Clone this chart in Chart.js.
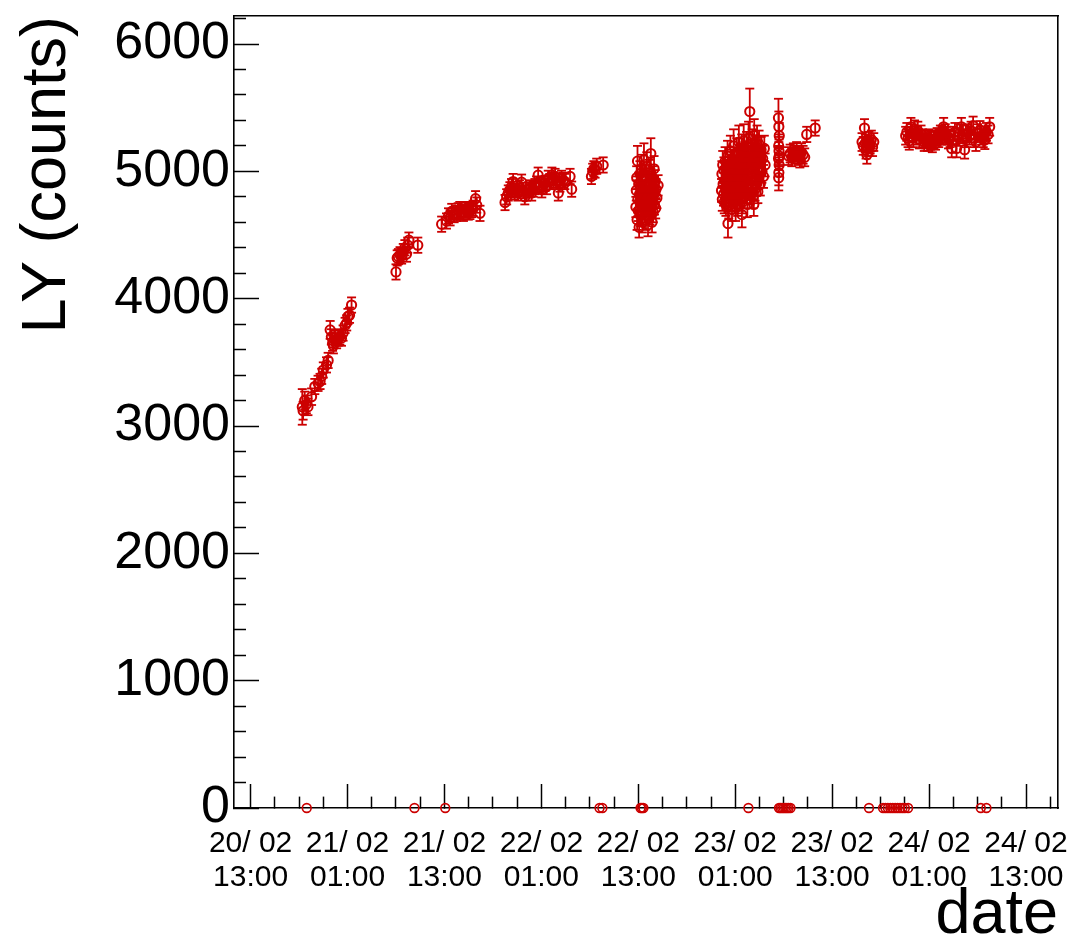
<!DOCTYPE html>
<html>
<head>
<meta charset="utf-8">
<script src="https://cdn.jsdelivr.net/npm/chart.js@4.4.1/dist/chart.umd.min.js"></script>
<style>
html,body{margin:0;padding:0;background:#fff;}
canvas{display:block;}
</style>
</head>
<body>
<canvas id="c" width="1073" height="941" style="width:1073px;height:941px"></canvas>
<script>
// ---- data: [hours since 20/02 00:00, LY (counts), error] ----
const run1 = [[19.40,3150,140],[19.50,3120,70],[19.70,3200,70],[19.90,3170,70],[20.10,3150,65],[20.55,3230,65],[20.95,3310,60],[21.35,3335,60],[21.60,3350,60],[21.80,3390,60],[22.00,3440,60],[22.40,3480,60],[22.60,3515,60],[22.85,3755,70],[23.00,3700,60],[23.15,3650,60],[23.25,3630,60],[23.45,3690,60],[23.65,3670,60],[23.85,3690,60],[24.05,3700,60],[24.25,3690,60],[24.45,3730,60],[24.70,3790,60],[24.90,3810,60],[25.05,3860,60],[25.25,3870,60],[25.50,3950,60]];
const run2 = [[31.00,4210,60],[31.15,4320,60],[31.30,4330,60],[31.50,4345,60],[31.70,4335,60],[31.90,4370,60],[32.10,4400,60],[32.30,4350,60],[32.45,4420,60],[32.60,4460,60],[33.70,4420,60]];
const run3 = [[36.65,4585,60],[37.25,4610,60],[37.50,4650,60],[37.70,4635,60],[37.90,4685,60],[38.20,4660,60],[38.50,4670,60],[38.70,4690,60],[38.90,4700,60],[39.10,4680,60],[39.35,4670,60],[39.55,4700,60],[39.75,4695,60],[39.95,4680,60],[40.15,4685,60],[40.35,4700,60],[40.55,4710,60],[40.85,4785,60],[41.00,4735,60],[41.40,4670,60]];
const run4 = [[44.50,4755,60],[44.70,4800,60],[44.90,4830,60],[45.10,4855,60],[45.30,4880,60],[45.50,4920,60],[45.70,4840,60],[45.90,4860,60],[46.10,4830,60],[46.30,4870,60],[46.55,4915,60],[46.75,4850,60],[46.95,4800,60],[47.15,4830,60],[47.40,4855,60],[47.60,4870,60],[47.80,4830,60],[48.00,4860,60],[48.20,4880,60],[48.40,4900,60],[48.60,4970,60],[48.80,4890,60],[49.05,4855,60],[49.25,4900,60],[49.45,4905,60],[49.65,4880,60],[49.85,4945,60],[50.05,4920,60],[50.30,4970,60],[50.50,4930,60],[50.70,4960,60],[50.90,4920,60],[51.10,4830,60],[51.30,4900,60],[51.50,4945,60],[51.70,4930,60],[51.90,4920,60],[52.55,4960,60],[52.75,4860,60]];
const run5 = [[55.20,4960,60],[55.35,5000,60],[55.50,5020,60],[55.65,5010,60],[55.85,5040,60],[56.65,5050,60]];
const run6 = [[60.70,4720,80],[60.75,4850,80],[60.80,4950,90],[60.85,4620,80],[60.90,5080,120],[60.95,4780,80],[61.00,4690,80],[61.05,4900,90],[61.10,4560,80],[61.15,4820,80],[61.20,4980,100],[61.25,4740,80],[61.30,4650,80],[61.35,4870,90],[61.40,5020,110],[61.45,4760,80],[61.50,4600,80],[61.55,4930,90],[61.60,4800,80],[61.65,4700,80],[61.70,5090,130],[61.75,4850,80],[61.80,4680,80],[61.85,4960,90],[61.90,4770,80],[61.95,4620,80],[62.00,4880,90],[62.05,5040,110],[62.10,4730,80],[62.15,4810,80],[62.20,4580,90],[62.25,4910,90],[62.30,4700,80],[62.35,4990,100],[62.40,4840,80],[62.45,4660,80],[62.50,4760,80],[62.55,5140,120],[62.60,4890,90],[62.65,4720,80],[62.70,4600,80],[62.75,4950,90],[62.80,4800,80],[62.85,4680,80],[62.90,4870,90],[62.95,5020,100],[63.00,4740,80],[63.05,4830,80],[63.10,4920,90],[63.15,4710,80],[63.20,4860,80],[63.30,4790,80],[63.45,4890,80]];
const run7 = [[71.30,4850,90],[71.35,4980,100],[71.40,4780,90],[71.45,5050,110],[71.50,4900,90],[71.55,4820,90],[71.60,5010,100],[71.65,4760,90],[71.70,4930,90],[71.75,5080,110],[71.80,4870,90],[71.85,4740,90],[71.90,4990,100],[71.95,4810,90],[72.00,4950,90],[72.05,5120,120],[72.10,4590,110],[72.15,4880,90],[72.20,4720,90],[72.25,5030,100],[72.30,4840,90],[72.35,4960,90],[72.40,5160,120],[72.45,4780,90],[72.50,4910,90],[72.55,5070,100],[72.60,4700,90],[72.65,4860,90],[72.70,5000,100],[72.75,4820,90],[72.80,5200,130],[72.85,4940,90],[72.90,4760,90],[72.95,5090,100],[73.00,4880,90],[73.05,4720,110],[73.10,5010,100],[73.15,4800,90],[73.20,5150,110],[73.25,4920,90],[73.30,4740,90],[73.35,5060,100],[73.40,4860,90],[73.45,5230,130],[73.50,4970,90],[73.55,4780,90],[73.60,5110,100],[73.65,4900,90],[73.70,5020,100],[73.75,4820,90],[73.80,5180,110],[73.83,4660,100],[73.85,4950,90],[73.90,4760,90],[73.95,5080,100],[74.00,4880,90],[74.05,5240,130],[74.10,4990,90],[74.15,4800,90],[74.20,5130,100],[74.25,4920,90],[74.30,5050,100],[74.35,4840,90],[74.40,5200,110],[74.45,4960,90],[74.50,4740,100],[74.55,5100,100],[74.60,4900,90],[74.65,5260,130],[74.70,5010,90],[74.80,5470,180],[74.85,4830,90],[74.90,5150,100],[74.95,4940,90],[75.00,5060,100],[75.05,4870,90],[75.10,5220,110],[75.15,4980,90],[75.20,4800,90],[75.25,5120,100],[75.30,4740,90],[75.35,5280,130],[75.40,5040,90],[75.45,4860,90],[75.50,5180,100],[75.55,4960,90],[75.60,5090,100],[75.65,4900,90],[75.70,5250,110],[75.75,5000,90],[75.80,4840,90],[75.85,5140,100],[75.90,4950,90],[75.95,5210,110],[76.00,5060,90],[76.10,4900,90],[76.20,5170,100],[76.30,5000,90],[76.40,5100,100],[76.50,4960,90],[76.60,5180,100],[76.70,5050,90]];
const run8 = [[78.35,5420,150],[78.40,5350,120],[78.45,5280,100],[78.38,5200,90],[78.42,5160,90],[78.36,5100,90],[78.44,5050,90],[78.40,4990,100],[78.38,4950,100],[78.45,5120,80],[79.60,5120,70],[79.80,5140,70],[80.00,5110,70],[80.20,5150,70],[80.40,5130,70],[80.60,5160,70],[80.80,5120,70],[81.00,5100,70],[81.20,5150,70],[81.40,5130,70],[81.60,5110,70],[81.85,5290,60],[82.90,5340,60]];
const run9 = [[88.70,5230,70],[88.85,5200,70],[89.00,5340,70],[89.10,5220,70],[89.20,5170,70],[89.30,5130,70],[89.40,5190,70],[89.55,5240,70],[89.70,5210,70],[89.85,5250,70],[90.00,5190,70],[90.15,5230,70]];
const run10 = [[94.10,5280,70],[94.25,5310,70],[94.40,5260,70],[94.55,5240,70],[94.75,5350,70],[94.90,5300,70],[95.05,5260,70],[95.20,5330,70],[95.40,5280,70],[95.60,5320,70],[95.80,5250,70],[96.00,5290,70],[96.20,5260,70],[96.40,5230,70],[96.60,5250,70],[96.80,5230,70],[97.00,5260,70],[97.20,5240,70],[97.40,5220,70],[97.60,5250,70],[97.80,5240,70],[98.00,5270,70],[98.20,5260,70],[98.40,5290,70],[98.60,5280,70],[98.80,5350,70],[99.00,5300,70],[99.20,5280,70],[99.40,5250,70],[99.60,5260,70],[99.80,5180,70],[100.00,5280,70],[100.20,5310,70],[100.40,5180,70],[100.60,5270,70],[100.80,5300,70],[101.00,5350,70],[101.20,5290,70],[101.40,5170,70],[101.60,5260,70],[101.80,5300,70],[102.00,5280,70],[102.20,5320,70],[102.45,5360,70],[102.60,5260,70],[102.80,5230,70],[103.00,5300,70],[103.30,5325,70],[103.50,5280,70],[103.70,5260,70],[103.90,5245,70],[104.10,5310,70],[104.30,5290,70],[104.50,5350,70]];
// runs with LY = 0 (no error bar)
const zeroHours = [19.95,33.29,37.10,56.20,56.55,61.28,61.45,61.63,74.63,78.42,78.60,78.80,79.00,79.20,79.40,79.60,79.84,89.56,91.30,91.60,91.90,92.20,92.50,92.80,93.10,93.40,93.70,94.00,94.40,103.40,104.10];

// ---- tick labels ----
const xMajorHours = [13,25,37,49,61,73,85,97,109];
const xTickDates  = ['20/ 02','21/ 02','21/ 02','22/ 02','22/ 02','23/ 02','23/ 02','24/ 02','24/ 02'];
const xTickTimes  = ['13:00','01:00','13:00','01:00','13:00','01:00','13:00','01:00','13:00'];
const yMajorTicks = [0,1000,2000,3000,4000,5000,6000];

// ---- build datasets ----
const rows = [].concat(run1, run2, run3, run4, run5, run6, run7, run8, run9, run10);
const pointData = rows.map(r => ({x: r[0], y: r[1]}));
const errData = [];
rows.forEach(r => {
  errData.push({x: r[0], y: r[1] - r[2]});
  errData.push({x: r[0], y: r[1] + r[2]});
  errData.push({x: r[0], y: null});
});
const zeroData = zeroHours.map(h => ({x: h, y: 0}));

const RED = '#cc0000';
const FONT = "'Liberation Sans', Arial, Helvetica, sans-serif";
const X_MIN = 10.945, X_MAX = 112.96, Y_MIN = 0, Y_MAX = 6220;

const isXMajor = v => xMajorHours.indexOf(v) >= 0;
const isYMajor = v => yMajorTicks.indexOf(v) >= 0;

new Chart(document.getElementById('c'), {
  type: 'scatter',
  data: {
    datasets: [
      {
        data: errData, showLine: true, spanGaps: false,
        borderColor: RED, borderWidth: 1.8,
        pointStyle: 'line', pointRadius: 4.5, pointHoverRadius: 4.5,
        pointBorderColor: RED, pointBorderWidth: 1.8
      },
      {
        data: pointData, pointStyle: 'circle', pointRadius: 4.6, pointHoverRadius: 4.6,
        pointBorderColor: RED, pointBorderWidth: 2, pointBackgroundColor: 'rgba(0,0,0,0)'
      },
      {
        data: zeroData, clip: false, pointStyle: 'circle', pointRadius: 4.4, pointHoverRadius: 4.4,
        pointBorderColor: RED, pointBorderWidth: 1.6, pointBackgroundColor: 'rgba(0,0,0,0)'
      }
    ]
  },
  options: {
    responsive: false,
    animation: false,
    devicePixelRatio: 1,
    events: [],
    plugins: { legend: { display: false }, tooltip: { enabled: false } },
    layout: { padding: { top: 16, right: 15, left: 0, bottom: 0 } },
    scales: {
      x: {
        type: 'linear', position: 'bottom', min: X_MIN, max: X_MAX, bounds: 'data',
        afterBuildTicks: s => {
          const t = [];
          for (let h = 13; h <= X_MAX; h += 3) t.push({ value: h });
          s.ticks = t;
        },
        afterFit: s => { s.height = 133; s.paddingLeft = 0; s.paddingRight = 0; },
        ticks: {
          autoSkip: false, maxRotation: 0, minRotation: 0, padding: 43, color: '#000',
          font: { family: FONT, size: 30, lineHeight: 1.117 },
          callback: v => { const i = xMajorHours.indexOf(v); return i >= 0 ? [xTickDates[i], xTickTimes[i]] : ''; }
        },
        grid: {
          display: true, drawOnChartArea: false, drawTicks: true, tickLength: -24,
          tickColor: '#000', tickWidth: 1.5,
          tickBorderDash: ctx => (ctx.tick && isXMajor(ctx.tick.value)) ? [] : [12, 300]
        },
        border: { display: true, color: '#000', width: 1.6 },
        title: {
          display: true, text: 'date', align: 'end', color: '#000',
          font: { family: FONT, size: 63, lineHeight: 0.8 }, padding: 0
        }
      },
      y: {
        type: 'linear', position: 'left', min: Y_MIN, max: Y_MAX, bounds: 'data',
        afterBuildTicks: s => {
          const t = [];
          for (let v = 0; v <= Y_MAX; v += 200) t.push({ value: v });
          s.ticks = t;
        },
        afterFit: s => { s.width = 234; s.paddingTop = 0; s.paddingBottom = 0; },
        ticks: {
          autoSkip: false, padding: 29, color: '#000',
          font: { family: FONT, size: 52, lineHeight: 1.2 },
          callback: v => isYMajor(v) ? String(v) : ''
        },
        grid: {
          display: true, drawOnChartArea: false, drawTicks: true, tickLength: -25,
          tickColor: '#000', tickWidth: 1.5,
          tickBorderDash: ctx => (ctx.tick && isYMajor(ctx.tick.value)) ? [] : [0, 13, 12, 300]
        },
        border: { display: true, color: '#000', width: 1.6 },
        title: {
          display: true, text: 'LY (counts)', align: 'end', color: '#000',
          font: { family: FONT, size: 63, lineHeight: 1.2 }, padding: 10
        }
      },
      x2: {
        type: 'linear', position: 'top', min: 0, max: 1,
        afterFit: s => { s.height = 0; },
        ticks: { display: false },
        grid: { display: true, drawOnChartArea: false, drawTicks: false },
        border: { display: true, color: '#000', width: 1.6 }
      },
      y2: {
        type: 'linear', position: 'right', min: 0, max: 1,
        afterFit: s => { s.width = 0; },
        ticks: { display: false },
        grid: { display: true, drawOnChartArea: false, drawTicks: false },
        border: { display: true, color: '#000', width: 1.6 }
      }
    }
  }
});
</script>
</body>
</html>
